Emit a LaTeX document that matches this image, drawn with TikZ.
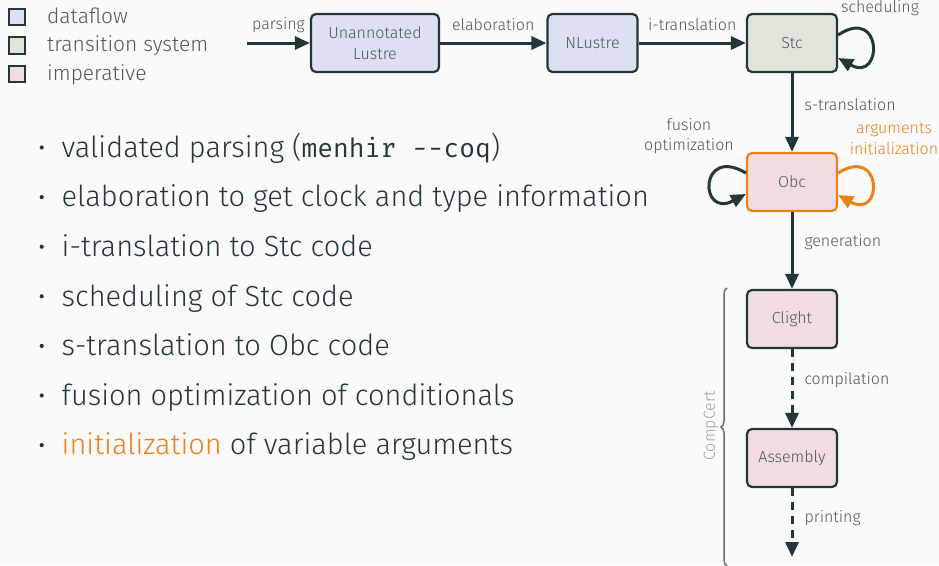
\documentclass[tikz,border=0pt]{standalone}
\usepackage{fontspec}
\setmainfont{Fira Sans Light}
\newfontfamily\monof{Fira Mono}
\usetikzlibrary{arrows.meta,decorations.pathreplacing}
\definecolor{bgc}{HTML}{FAFAFA}
\definecolor{dark}{HTML}{23373B}
\definecolor{soft}{HTML}{4B5A5E}
\definecolor{orng}{HTML}{EB811B}
\definecolor{dfl}{HTML}{DCE0F0}
\definecolor{tsy}{HTML}{E0E5DC}
\definecolor{imp}{HTML}{F1DCDF}
\definecolor{bracec}{HTML}{6E6E6E}
\definecolor{ccert}{HTML}{A0A0A0}
\begin{document}
\begin{tikzpicture}[x=1pt,y=-1pt,
  stage/.style={draw=dark, line width=2.2pt, rounded corners=5pt, inner sep=0pt,
    minimum width=90pt, minimum height=58pt, text=soft, align=center,
    font=\fontsize{16}{21}\selectfont},
  arr/.style={draw=dark, line width=3pt, -{Triangle[length=15pt,width=13pt]}},
  darr/.style={arr, dash pattern=on 8pt off 6pt},
  lbl/.style={text=soft, inner sep=0pt, align=center, font=\fontsize{16}{20.5}\selectfont},
  legbox/.style={draw=dark, line width=2pt, minimum size=16.5pt, inner sep=0pt},
  legtxt/.style={text=soft, anchor=base west, inner sep=0pt, font=\fontsize{21}{24}\selectfont},
  item/.style={text=dark, anchor=base west, inner sep=0pt, font=\fontsize{29}{32}\selectfont},
  dot/.style={fill=dark, circle, inner sep=0pt, minimum size=4.2pt}
]
\fill[bgc] (0,0) rectangle (939,565);
\useasboundingbox (0,0) rectangle (939,565);

% legend
\node[legbox, fill=dfl] (l1) at (17,17.2) {};
\node[legbox, fill=tsy] (l2) at (17,45.6) {};
\node[legbox, fill=imp] (l3) at (17,74.2) {};
\node[legtxt] (t1) at (47,23) {dataflow};
\node[legtxt] (t2) at (47,51.5) {transition system};
\node[legtxt] (t3) at (47,80.3) {imperative};

% stages
\node[stage, fill=dfl, minimum width=128pt] (ul) at (375,43) {Unannotated\\Lustre};
\node[stage, fill=dfl] (nl) at (592.5,43) {NLustre};
\node[stage, fill=tsy] (stc) at (792,43) {Stc};
\node[stage, fill=imp, draw=orng] (obc) at (792,182) {Obc};
\node[stage, fill=imp] (cl) at (792,319) {Clight};
\node[stage, fill=imp] (asm) at (792,458) {Assembly};
\coordinate (src) at (247,43);
\coordinate (sink) at (792,557);

% connectors
\draw[arr] (src) -- node[lbl, midway, yshift=18pt] {parsing} (ul);
\draw[arr] (ul) -- node[lbl, midway, yshift=18pt] {elaboration} (nl);
\draw[arr] (nl) -- node[lbl, midway, yshift=18pt] {i-translation} (stc);
\draw[arr] (stc) -- node[lbl, pos=0.4, anchor=west, xshift=11pt] {s-translation} (obc);
\draw[arr] (obc) -- node[lbl, pos=0.39, anchor=west, xshift=11pt] {generation} (cl);
\draw[darr] (cl) -- node[lbl, pos=0.39, anchor=west, xshift=11pt] {compilation} (asm);
\draw[darr] (asm) -- node[lbl, pos=0.43, anchor=west, xshift=11pt] {printing} (sink);

% loops
\draw[arr] ([yshift=8pt]stc.east) .. controls +(45,-30) and +(45,25) .. ([yshift=-15pt]stc.east);
\draw[arr] ([yshift=9pt]obc.west) .. controls +(-47,-28) and +(-47,25) .. ([yshift=-12pt]obc.west);
\draw[arr, draw=orng, orng] ([yshift=9pt]obc.east) .. controls +(45,-28) and +(45,25) .. ([yshift=-13pt]obc.east);
\node[lbl] (schedl) at (880,8.5) {scheduling};
\node[lbl] (fusl) at (689,136) {fusion\\optimization};
\node[lbl, text=orng] (argl) at (894,139) {arguments\\initialization};

% CompCert brace
\coordinate (bb) at (727,566);
\coordinate (bt) at (727,288);
\draw[bracec, line width=1.5pt, decorate, decoration={brace, amplitude=6pt}] (bb) -- (bt);
\node[lbl, text=ccert, rotate=90] (cc) at (711,426) {CompCert};

% bullets
\foreach \y/\t [count=\i] in {
  206.9/{elaboration to get clock and type information},
  256.5/{i-translation to Stc code},
  306.1/{scheduling of Stc code},
  355.7/{s-translation to Obc code},
  405.3/{fusion optimization of conditionals}} {
  \node[dot] (d\i) at (41.7,\y-9.8) {};
  \node[item] (b\i) at (61.5,\y) {\t};
}
\node[dot] (d0) at (41.7,147.5) {};
\node[item] (b0) at (61.5,157.3) {validated parsing ({\monof\fontsize{26.3}{32}\selectfont menhir --coq})};
\node[dot] (d7) at (41.7,445.1) {};
\node[item] (b7) at (61.5,454.9) {{\color{orng}initialization} of variable arguments};
\end{tikzpicture}
\end{document}
